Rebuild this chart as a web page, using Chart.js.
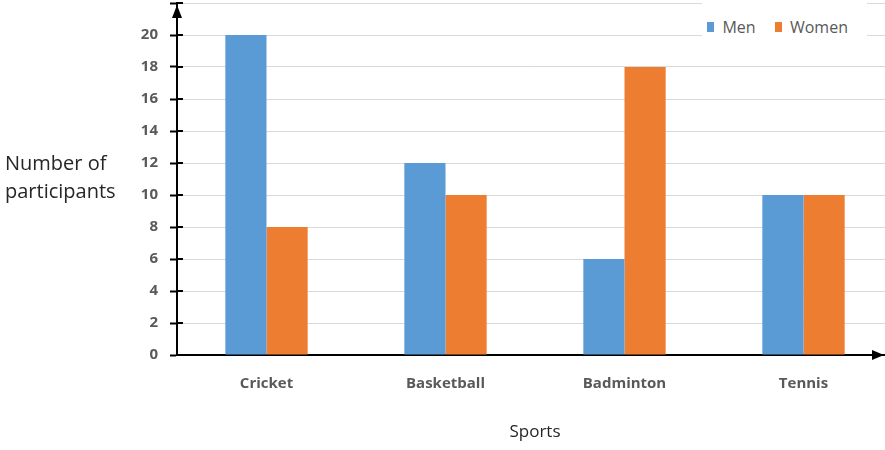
<!DOCTYPE html>
<html>
<head>
<meta charset="utf-8">
<script src="https://cdn.jsdelivr.net/npm/chart.js@4"></script>
<style>
  body { margin: 0; overflow: hidden; background: #fff; }
  #wrap { position: relative; width: 895px; height: 450px; }
  #yTitle { position: absolute; left: 5px; top: 149px; font-family: "Open Sans"; font-size: 20px; line-height: 28px; color: #262626; }
  #leyenda { position: absolute; left: 702px; top: 2px; width: 165px; height: 38px; background: #fff;
    font-family: "Open Sans"; font-size: 16px; color: #595959; display: flex; align-items: center;
    padding-left: 5px; padding-top: 12px; box-sizing: border-box; }
  #leyenda span.box { display: inline-block; width: 10px; height: 10px; margin-right: 8px; }
  #leyenda span.txt { margin-right: 19px; }
</style>
</head>
<body>
<div id="wrap">
  <canvas id="myChart" width="895" height="450"></canvas>
  <div id="yTitle">Number of<br>participants</div>
  <div id="leyenda"></div>
</div>
<script>
const deportes = ["Cricket", "Basketball", "Badminton", "Tennis"]
const hombres = [20, 12, 6, 10]
const mujeres = [8, 10, 18, 10]
const series = ["Men", "Women"]
const colores = ["#5B9BD5", "#ED7D31"]
const yTicks = [0, 2, 4, 6, 8, 10, 12, 14, 16, 18, 20, 22]

// flechas de los ejes y marcas del eje y
const flechas = {
    id: "flechas",
    afterDraw(chart) {
        const ctx = chart.ctx
        const area = chart.chartArea
        const y = chart.scales.y
        ctx.save()
        ctx.strokeStyle = "#000"
        ctx.fillStyle = "#000"
        ctx.lineWidth = 2
        for (const v of yTicks) {
            const py = y.getPixelForValue(v)
            ctx.beginPath()
            ctx.moveTo(area.left, py)
            ctx.lineTo(area.left + 6, py)
            ctx.stroke()
        }
        // flecha arriba
        ctx.beginPath()
        ctx.moveTo(area.left, area.top + 2)
        ctx.lineTo(area.left - 5, area.top + 15)
        ctx.lineTo(area.left + 5, area.top + 15)
        ctx.closePath()
        ctx.fill()
        // flecha derecha
        const ax = 884
        ctx.beginPath()
        ctx.moveTo(ax, area.bottom)
        ctx.lineTo(ax - 12, area.bottom - 5)
        ctx.lineTo(ax - 12, area.bottom + 5)
        ctx.closePath()
        ctx.fill()
        ctx.restore()
    }
}

const grafico = document.getElementById("myChart").getContext("2d")
const myChart = new Chart(grafico, {
    type: "bar",
    data: {
        labels: deportes,
        datasets: [
            { label: series[0], data: hombres, backgroundColor: colores[0] },
            { label: series[1], data: mujeres, backgroundColor: colores[1] }
        ]
    },
    options: {
        responsive: false,
        animation: false,
        datasets: { bar: { categoryPercentage: 0.46, barPercentage: 1 } },
        layout: { padding: { top: 3, right: 2, bottom: 0, left: 0 } },
        plugins: {
            legend: { display: false },
            tooltip: { enabled: false }
        },
        scales: {
            x: {
                grid: { display: false, drawTicks: false },
                border: { color: "#000", width: 2 },
                ticks: { color: "#595959", padding: 20, font: { family: "Open Sans", size: 15, weight: "bold" } },
                title: { display: true, text: "Sports", color: "#262626", padding: { top: 0, bottom: 8 }, font: { family: "Open Sans", size: 17 } },
                afterFit(scale) { scale.height = 95 }
            },
            y: {
                min: 0,
                max: 22,
                afterBuildTicks(scale) { scale.ticks = yTicks.map(v => ({ value: v })) },
                grid: { color: "#d9d9d9", tickColor: "#000", tickLength: 7, tickWidth: 2 },
                border: { color: "#000", width: 2 },
                ticks: {
                    color: "#595959", padding: 12,
                    font: { family: "Open Sans", size: 15, weight: "bold" },
                    callback: v => v === 22 ? "" : v
                },
                afterFit(scale) {
                    scale.width = 177
                    scale.paddingTop = 0
                    scale.paddingBottom = 0
                }
            }
        }
    },
    plugins: [flechas]
})

const leyenda = document.getElementById("leyenda")
leyenda.innerHTML = ""
series.forEach((s, i) => {
    leyenda.innerHTML += `<span class="box" style="background:${colores[i]}"></span><span class="txt">${s}</span>`
})
</script>
</body>
</html>
